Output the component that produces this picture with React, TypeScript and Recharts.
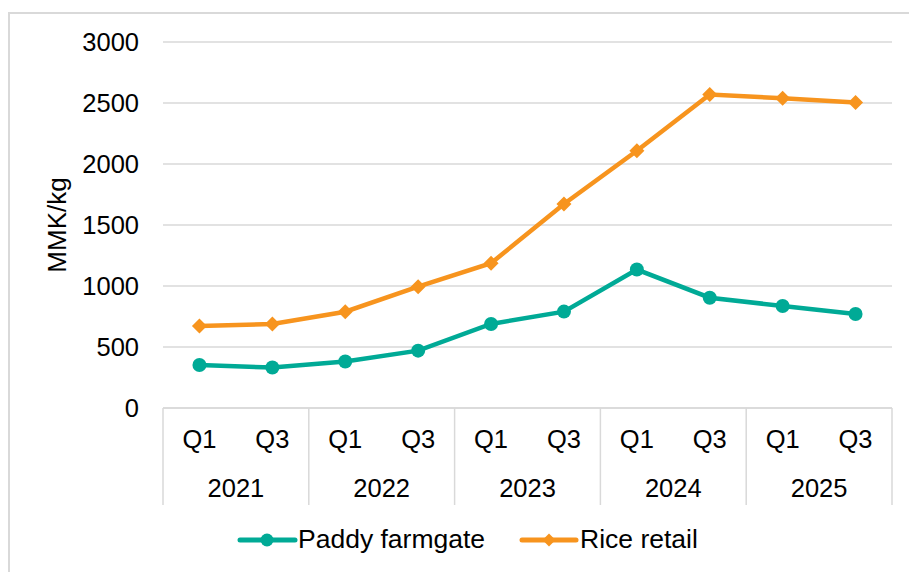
import React from 'react';
import { LineChart, Line, XAxis, YAxis, CartesianGrid } from 'recharts';

const years = ['2021', '2022', '2023', '2024', '2025'];
const quarters = ['Q1', 'Q3'];
const paddyFarmgate = [352, 332, 381, 470, 689, 790, 1135, 904, 836, 771];
const riceRetail = [672, 689, 789, 994, 1187, 1672, 2108, 2569, 2539, 2504];
const yTicks = [0, 500, 1000, 1500, 2000, 2500, 3000];

const seriesNames = ['Paddy farmgate', 'Rice retail'];
const TEAL = '#00AA96';
const ORANGE = '#F7941E';
const GRID = '#d9d9d9';
const FONT = '"Liberation Sans", Arial, sans-serif';

const rows = years.flatMap((year, yi) =>
  quarters.map((quarter, qi) => {
    const i = yi * quarters.length + qi;
    return { key: `${year} ${quarter}`, year, quarter, paddy: paddyFarmgate[i], rice: riceRetail[i] };
  })
);

// layout (page pixels)
const W = 909;
const H = 572;
const PLOT_LEFT = 163;
const PLOT_RIGHT = 892;
const PLOT_TOP = 42;
const PLOT_BOTTOM = 408;
const PLOT_W = PLOT_RIGHT - PLOT_LEFT;
const BAND = PLOT_W / rows.length;

const QuarterTick = (props: any) => {
  const { x, y, index } = props;
  const row = rows[index];
  if (!row) return null;
  const first = row.quarter === quarters[0];
  const last = index === rows.length - 1;
  return (
    <g>
      <text x={x} y={y + 40} textAnchor="middle" fill="#000" fontSize={25.5} fontFamily={FONT}>
        {row.quarter}
      </text>
      {first && (
        <text x={x + BAND / 2} y={y + 89} textAnchor="middle" fill="#000" fontSize={25.5} fontFamily={FONT}>
          {row.year}
        </text>
      )}
      {first && <line x1={x - BAND / 2} x2={x - BAND / 2} y1={y} y2={y + 97} stroke={GRID} strokeWidth={1.5} />}
      {last && <line x1={x + BAND / 2} x2={x + BAND / 2} y1={y} y2={y + 97} stroke={GRID} strokeWidth={1.5} />}
    </g>
  );
};

const Diamond = (props: any) => {
  const { cx, cy, size } = props;
  if (cx == null || cy == null) return null;
  const s = size ?? 7.5;
  return <polygon points={`${cx},${cy - s} ${cx + s},${cy} ${cx},${cy + s} ${cx - s},${cy}`} fill={ORANGE} />;
};

const YLabel = () => {
  const cx = 66;
  const cy = 225;
  return (
    <text x={cx} y={cy} transform={`rotate(-90, ${cx}, ${cy})`} textAnchor="middle" fill="#000" fontSize={26} fontFamily={FONT}>
      MMK/kg
    </text>
  );
};

function LegendRow() {
  const y = 28;
  return (
    <svg width={W} height={60} style={{ position: 'absolute', left: 0, top: 512 }}>
      <line x1={240} x2={295} y1={y} y2={y} stroke={TEAL} strokeWidth={5} strokeLinecap="round" />
      <circle cx={267} cy={y} r={6.5} fill={TEAL} />
      <text x={298} y={y + 8} fontSize={26.5} fontFamily={FONT} fill="#000">{seriesNames[0]}</text>
      <line x1={522} x2={576} y1={y} y2={y} stroke={ORANGE} strokeWidth={5} strokeLinecap="round" />
      <Diamond cx={549} cy={y} size={6.5} />
      <text x={580} y={y + 8} fontSize={26.5} fontFamily={FONT} fill="#000">{seriesNames[1]}</text>
    </svg>
  );
}

export default function App() {
  return (
    <div style={{ position: 'absolute', left: 0, top: 0, width: W, height: H, background: '#fff', fontFamily: FONT, overflow: 'hidden' }}>
      <div style={{ position: 'absolute', left: 8, top: 12, right: -10, bottom: -10, borderLeft: `2px solid ${GRID}`, borderTop: `2px solid ${GRID}` }} />
      <div style={{ position: 'absolute', left: 0, top: 0 }}>
        <LineChart width={W} height={H} data={rows} margin={{ top: PLOT_TOP, right: W - PLOT_RIGHT, left: 0, bottom: 0 }}>
          <CartesianGrid vertical={false} stroke={GRID} strokeWidth={1.5} />
          <XAxis
            dataKey="key"
            height={H - PLOT_BOTTOM}
            interval={0}
            padding={{ left: BAND / 2, right: BAND / 2 }}
            axisLine={{ stroke: GRID, strokeWidth: 1.5 }}
            tickLine={false}
            tickSize={0}
            tickMargin={0}
            tick={<QuarterTick />}
          />
          <YAxis
            width={PLOT_LEFT}
            domain={[0, 3000]}
            ticks={yTicks}
            interval={0}
            axisLine={false}
            tickLine={false}
            tickSize={0}
            tickMargin={24}
            tick={{ fill: '#000', fontSize: 25.5, fontFamily: FONT }}
            label={<YLabel />}
          />
          <Line
            dataKey="paddy"
            name={seriesNames[0]}
            stroke={TEAL}
            strokeWidth={4.5}
            dot={{ r: 7, fill: TEAL, stroke: TEAL, strokeWidth: 0 }}
            isAnimationActive={false}
          />
          <Line
            dataKey="rice"
            name={seriesNames[1]}
            stroke={ORANGE}
            strokeWidth={4.5}
            dot={<Diamond />}
            isAnimationActive={false}
          />
        </LineChart>
      </div>
      <LegendRow />
    </div>
  );
}
